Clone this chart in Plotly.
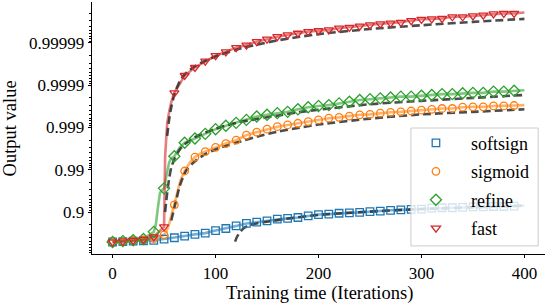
import plotly.graph_objects as go

# iterations at which the markers are drawn
iters = list(range(0, 400, 10))

# Values are given as "number of nines": -log10(1 - output value)
softsign = [0.29, 0.30, 0.31, 0.32, 0.33, 0.36, 0.39, 0.43, 0.47, 0.50,
            0.56, 0.61, 0.67, 0.73, 0.76, 0.79, 0.83, 0.85, 0.87, 0.91,
            0.94, 0.95, 0.97, 0.98, 0.99, 1.01, 1.02, 1.04, 1.05, 1.06,
            1.07, 1.09, 1.10, 1.10, 1.11, 1.12, 1.12, 1.13, 1.13, 1.14]
sigmoid = [0.29, 0.30, 0.32, 0.34, 0.37, 0.46, 1.17, 1.97, 2.30, 2.43,
           2.53, 2.62, 2.70, 2.82, 2.89, 2.96, 3.02, 3.06, 3.10, 3.14,
           3.18, 3.22, 3.24, 3.27, 3.30, 3.31, 3.34, 3.36, 3.37, 3.39,
           3.41, 3.43, 3.45, 3.45, 3.48, 3.49, 3.49, 3.51, 3.51, 3.52]
refine = [0.29, 0.31, 0.33, 0.36, 0.53, 1.56, 2.32, 2.64, 2.74, 2.85,
          2.96, 3.04, 3.11, 3.18, 3.26, 3.30, 3.34, 3.37, 3.43, 3.48,
          3.51, 3.53, 3.57, 3.61, 3.65, 3.67, 3.69, 3.71, 3.73, 3.73,
          3.75, 3.77, 3.79, 3.79, 3.81, 3.82, 3.82, 3.85, 3.85, 3.87]
fast = [0.29, 0.31, 0.33, 0.35, 0.41, 0.65, 3.82, 4.23, 4.42, 4.57,
        4.70, 4.79, 4.89, 4.95, 5.03, 5.09, 5.15, 5.19, 5.23, 5.27,
        5.29, 5.31, 5.35, 5.37, 5.40, 5.43, 5.45, 5.47, 5.49, 5.53,
        5.56, 5.57, 5.58, 5.62, 5.62, 5.64, 5.66, 5.69, 5.70, 5.70]

# extra samples of the solid curves (steep rise and end of run)
softsign_extra_iters = [400]
softsign_extra = [1.15]
sigmoid_extra_iters = [52, 55, 58, 63, 66, 75, 85, 400]
sigmoid_extra = [0.52, 0.72, 1.02, 1.52, 1.76, 2.17, 2.38, 3.53]
refine_extra_iters = [42, 44, 46, 48, 53, 55, 57, 65, 400]
refine_extra = [0.70, 1.10, 1.45, 1.52, 1.95, 2.18, 2.27, 2.52, 3.88]
fast_extra_iters = [51, 52, 53, 55, 57, 400]
fast_extra = [2.30, 2.80, 3.10, 3.38, 3.60, 5.72]

# dashed fitted curves
softsign_fit_iters = [119, 121, 124, 127, 132, 140, 150, 175, 200, 250, 300, 350, 400]
softsign_fit = [0.30, 0.42, 0.53, 0.61, 0.68, 0.73, 0.77, 0.86, 0.93, 1.01, 1.07, 1.11, 1.15]
sigmoid_fit_iters = [57, 59, 62, 65, 68, 72, 80, 90, 100, 120, 140, 160, 180, 200, 250, 300, 350, 400]
sigmoid_fit = [0.80, 1.00, 1.30, 1.60, 1.80, 2.00, 2.20, 2.37, 2.48, 2.64, 2.78, 2.90, 2.99, 3.07, 3.21, 3.31, 3.37, 3.43]
refine_fit_iters = [51, 53, 55, 57, 60, 65, 70, 80, 90, 100, 120, 140, 160, 180, 200, 250, 300, 350, 400]
refine_fit = [1.00, 1.45, 1.80, 2.05, 2.25, 2.47, 2.60, 2.77, 2.88, 2.97, 3.11, 3.20, 3.28, 3.36, 3.42, 3.55, 3.63, 3.70, 3.77]
fast_fit_iters = [53, 55, 57, 60, 65, 70, 80, 90, 100, 120, 140, 160, 180, 200, 250, 300, 350, 400]
fast_fit = [2.80, 3.20, 3.48, 3.78, 4.08, 4.26, 4.45, 4.58, 4.68, 4.84, 4.96, 5.06, 5.14, 5.21, 5.33, 5.42, 5.50, 5.57]

names = ["softsign", "sigmoid", "refine", "fast"]
colors = ["#1f77b4", "#ff7f0e", "#2ca02c", "#d62728"]
line_colors = ["rgba(31,119,180,0.6)", "rgba(255,127,14,0.6)",
               "rgba(44,160,44,0.6)", "rgba(214,39,40,0.6)"]
symbols = ["square-open", "circle-open", "diamond-open", "triangle-down-open"]
sizes = [7.5, 7.5, 8.5, 8]

yticks_out = ["0.9", "0.99", "0.999", "0.9999", "0.99999"]


def gap(vals):
    # distance of the output from 1, plotted on a reversed log axis
    return [10 ** (-v) for v in vals]


series = [softsign, sigmoid, refine, fast]
extras = [(softsign_extra_iters, softsign_extra), (sigmoid_extra_iters, sigmoid_extra),
          (refine_extra_iters, refine_extra), (fast_extra_iters, fast_extra)]
fits = [(softsign_fit_iters, softsign_fit), (sigmoid_fit_iters, sigmoid_fit),
        (refine_fit_iters, refine_fit), (fast_fit_iters, fast_fit)]

fig = go.Figure()

for i in range(4):
    pts = sorted(list(zip(iters, series[i])) + list(zip(*extras[i])))
    fig.add_trace(go.Scatter(
        x=[p[0] for p in pts], y=gap([p[1] for p in pts]), mode="lines",
        line=dict(color=line_colors[i], width=2.6), showlegend=False, hoverinfo="skip"))

for i in range(4):
    fx, fy = fits[i]
    fig.add_trace(go.Scatter(
        x=fx, y=gap(fy), mode="lines",
        line=dict(color="rgba(45,45,45,0.85)", width=2.6, dash="8px,4px", shape="spline", smoothing=0.8),
        showlegend=False, hoverinfo="skip"))

for i in range(4):
    fig.add_trace(go.Scatter(
        x=iters, y=gap(series[i]), mode="markers", name=names[i], legendgroup=names[i],
        marker=dict(symbol=symbols[i], size=sizes[i], color=colors[i],
                    line=dict(color=colors[i], width=1.3))))

major_vals = [10 ** (-k) for k in range(1, 6)]
minor_vals = [m * 10 ** (-(k + 1)) for k in range(0, 6) for m in range(2, 10)]

FAM = "Liberation Serif"
TICKFONT = dict(family=FAM, size=17, color="black")
LEGFONT = dict(family=FAM, size=18, color="black")
TITLEFONT = dict(family=FAM, size=18.5, color="black")

fig.update_layout(
    template="none",
    width=548, height=306,
    margin=dict(l=92, r=3, t=2, b=52),
    paper_bgcolor="white", plot_bgcolor="white",
    showlegend=True,
    legend=dict(x=0.682, y=0.513, xanchor="left", yanchor="top",
                bgcolor="rgba(0,0,0,0)", borderwidth=0, itemwidth=60,
                tracegroupgap=2, traceorder="grouped", font=LEGFONT),
    xaxis=dict(range=[-20, 420], tickvals=[0, 100, 200, 300, 400],
               ticks="outside", ticklen=3.5, tickwidth=0.8, tickcolor="black",
               showline=True, linecolor="black", linewidth=0.9,
               showgrid=False, zeroline=False, tickfont=TICKFONT),
    yaxis=dict(type="log", range=[-0.006, -5.97],
               tickvals=major_vals, ticktext=yticks_out,
               ticks="outside", ticklen=3.5, tickwidth=0.8, tickcolor="black",
               minor=dict(tickvals=minor_vals, ticks="outside", ticklen=2,
                          tickwidth=0.6, tickcolor="black", showgrid=False),
               showline=True, linecolor="black", linewidth=0.9,
               showgrid=False, zeroline=False, tickfont=TICKFONT),
    shapes=[dict(type="rect", xref="paper", yref="paper",
                 x0=0.704, x1=0.985, y0=0.032, y1=0.5, layer="above",
                 fillcolor="rgba(255,255,255,0.8)",
                 line=dict(color="rgba(204,204,204,1)", width=1))],
    annotations=[
        dict(text="Output value", xref="paper", yref="paper", x=-0.18, y=0.5,
             textangle=-90, showarrow=False, xanchor="center", yanchor="middle",
             font=TITLEFONT),
        dict(text="Training time (Iterations)", xref="paper", yref="paper",
             x=0.503, y=-0.158, showarrow=False, xanchor="center", yanchor="middle",
             font=TITLEFONT),
    ],
)

fig.write_html("out.html", config={"displayModeBar": False},
               post_script="document.body.style.margin='0';")
